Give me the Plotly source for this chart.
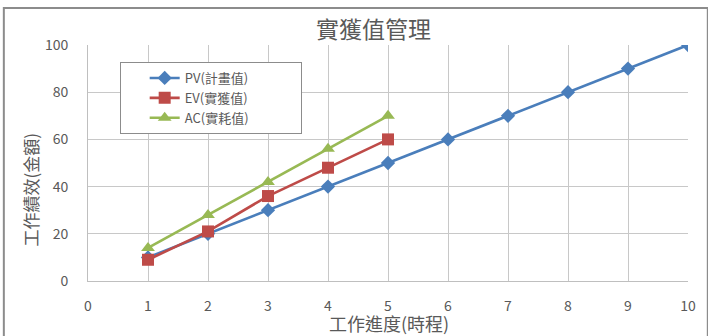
import plotly.graph_objects as go

# Earned value management data (time progress vs. performance amount)
progress = [1, 2, 3, 4, 5, 6, 7, 8, 9, 10]
pv_values = [10, 20, 30, 40, 50, 60, 70, 80, 90, 100]   # PV 計畫值
progress_actual = [1, 2, 3, 4, 5]
ev_values = [9, 21, 36, 48, 60]                          # EV 實獲值
ac_values = [14, 28, 42, 56, 70]                         # AC 實耗值

x_ticks = [0, 1, 2, 3, 4, 5, 6, 7, 8, 9, 10]
y_ticks = [0, 20, 40, 60, 80, 100]

FONT = "Noto Sans CJK TC, Noto Sans, sans-serif"
TEXT_GRAY = "#595959"
PAD = "\u00a0" * 16

fig = go.Figure()

fig.add_trace(go.Scatter(
    x=progress, y=pv_values, name="PV(計畫值)" + PAD, mode="lines+markers",
    line=dict(color="#4a7ebb", width=2.6),
    marker=dict(symbol="diamond", size=11, color="#4a7ebb"),
    legendgroup="pv", legendrank=1,
))
fig.add_trace(go.Scatter(
    x=progress_actual, y=ac_values, name="AC(實耗值)" + PAD, mode="lines+markers",
    line=dict(color="#98b954", width=2.6),
    marker=dict(symbol="triangle-up", size=12, color="#98b954"),
    legendgroup="ac", legendrank=3,
))
fig.add_trace(go.Scatter(
    x=progress_actual, y=ev_values, name="EV(實獲值)" + PAD, mode="lines+markers",
    line=dict(color="#be4b48", width=2.6),
    marker=dict(symbol="square", size=12, color="#be4b48"),
    legendgroup="ev", legendrank=2,
))

L, R, T, B = 88, 14, 45, 55
W, H = 708, 336
pw, ph = W - L - R, H - T - B


def px_x(px):
    return (px - L) / pw


def px_y(py):
    return (H - B - py) / ph


fig.update_layout(
    width=W, height=H,
    margin=dict(l=L, r=R, t=T, b=B),
    paper_bgcolor="white", plot_bgcolor="white",
    font=dict(family=FONT, color=TEXT_GRAY, size=13),
    showlegend=True,
    legend=dict(
        x=px_x(120), y=px_y(62), xanchor="left", yanchor="top",
        bordercolor="#8c8c8c", borderwidth=1, bgcolor="white",
        font=dict(size=13, color=TEXT_GRAY, family=FONT),
        tracegroupgap=8, indentation=24, traceorder="normal",
    ),
    xaxis=dict(
        range=[0, 10], tickvals=x_ticks, showgrid=True, gridcolor="#c8c8c8",
        gridwidth=1, zeroline=False, showline=True, linecolor="#bfbfbf",
        mirror=False, ticks="", ticklabelstandoff=12,
        tickfont=dict(size=14, color=TEXT_GRAY),
    ),
    yaxis=dict(
        range=[0, 100], tickvals=y_ticks, showgrid=True, gridcolor="#c8c8c8",
        gridwidth=1, zeroline=False, showline=True, linecolor="#bfbfbf",
        ticks="", ticklabelstandoff=16,
        tickfont=dict(size=14, color=TEXT_GRAY),
    ),
    annotations=[
        dict(text="實獲值管理", xref="paper", yref="paper",
             x=px_x(376), y=px_y(28), xanchor="center", yanchor="middle",
             showarrow=False, font=dict(size=23, color=TEXT_GRAY)),
        dict(text="工作進度(時程)", xref="paper", yref="paper",
             x=px_x(392), y=px_y(323), xanchor="center", yanchor="middle",
             showarrow=False, font=dict(size=18, color=TEXT_GRAY)),
        dict(text="工作績效(金額)", xref="paper", yref="paper",
             x=px_x(30), y=px_y(190), xanchor="center", yanchor="middle",
             textangle=-90, showarrow=False, font=dict(size=17, color=TEXT_GRAY)),
    ],
    shapes=[
        dict(type="rect", xref="paper", yref="paper",
             x0=px_x(3), x1=px_x(W + 6), y0=px_y(H + 6), y1=px_y(8),
             line=dict(color="#8c8c8c", width=2), layer="below"),
    ],
)

fig.write_html("out.html")
